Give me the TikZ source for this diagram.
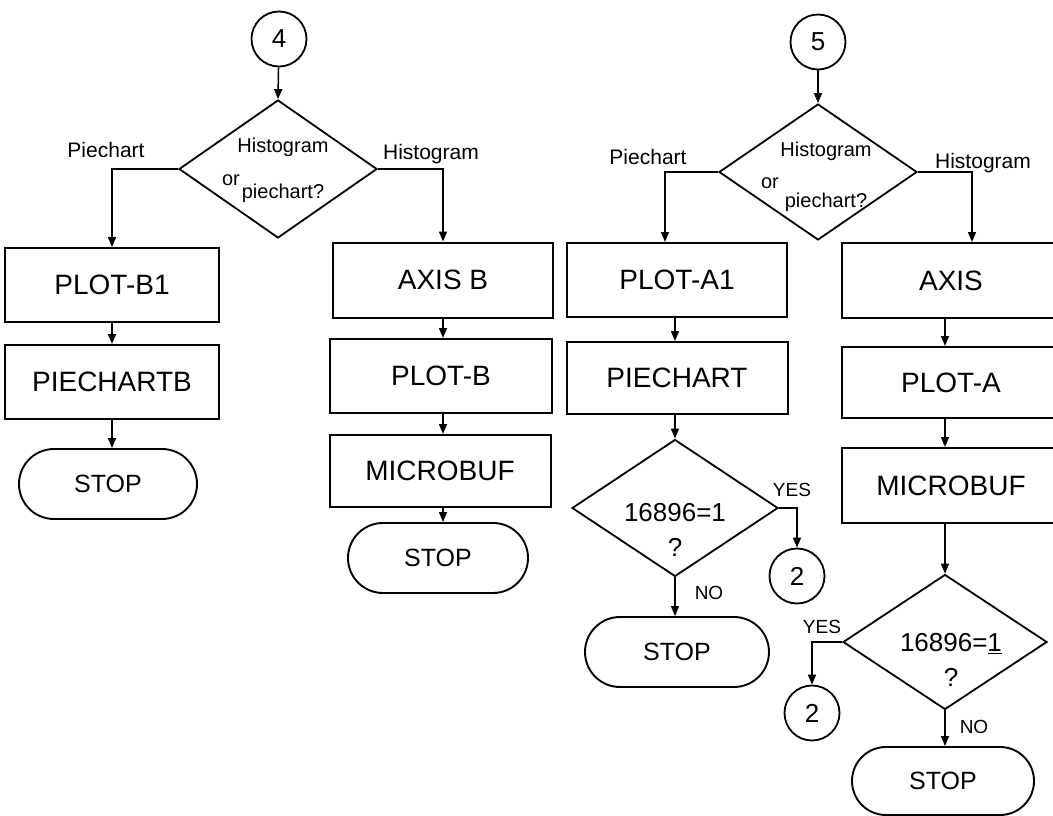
\documentclass[tikz,border=0pt]{standalone}
\usepackage{fontspec}
\setmainfont{Liberation Sans}
\usetikzlibrary{shapes.geometric,shapes.misc,arrows.meta,calc}
\begin{document}
\begin{tikzpicture}[x=1pt,y=-1pt,
  box/.style={draw,line width=2pt,inner sep=0pt,font=\fontsize{28}{32}\selectfont},
  conn/.style={circle,draw,line width=1.8pt,minimum size=55pt,inner sep=0pt,font=\fontsize{26}{28}\selectfont},
  dec/.style={diamond,draw,line width=1.8pt,inner sep=0pt,shape aspect=1.45},
  dtext/.style={align=center,inner sep=0pt,font=\fontsize{20}{24}\selectfont},
  qtext/.style={align=center,inner sep=0pt,font=\fontsize{26}{30}\selectfont},
  term/.style={rounded rectangle,draw,line width=1.9pt,inner sep=0pt,font=\fontsize{25}{28}\selectfont},
  arr/.style={line width=1.5pt,-{Triangle[length=10pt,width=8pt]}},
  lab/.style={inner sep=0pt,font=\fontsize{21}{24}\selectfont},
  yn/.style={inner sep=0pt,font=\fontsize{19}{22}\selectfont}]
\clip (0,0) rectangle (1053,816);

% ---- entry 4: histogram or piechart (variant B) ----
\node[conn] (c4) at (279,39) {4};
\node[dec,minimum width=198pt,minimum height=138pt] (d1) at (278,169) {};
\node[dtext] (d1t) at ($(d1.center)+(5,1)$)
  {Histogram\\[17pt]\llap{\raisebox{13pt}{or}\hspace{2pt}}piechart?};
\node[lab] (l1p) at (106,150) {Piechart};
\node[lab] (l1h) at (431,154) {Histogram};

\node[box,minimum width=214pt,minimum height=74pt] (b1) at (112,285) {PLOT-B1};
\node[box,minimum width=214pt,minimum height=74pt] (b2) at (112,382) {PIECHARTB};
\node[term,minimum width=178pt,minimum height=70pt] (s1) at (108,484) {STOP};

\node[box,minimum width=220pt,minimum height=75pt] (b3) at (443,280) {AXIS B};
\node[box,minimum width=222pt,minimum height=74pt] (b4) at (441,376) {PLOT-B};
\node[box,minimum width=221pt,minimum height=72pt] (b5) at (440,471) {MICROBUF};
\node[term,minimum width=180pt,minimum height=70pt] (s2) at (438,558) {STOP};

\draw[arr] (c4) -- (d1.north);
\draw[arr] (d1.west) -| (b1.north);
\draw[arr] (d1.east) -| (b3.north);
\draw[arr] (b1) -- (b2);
\draw[arr] (b2) -- (s1.north -| b2.south);
\draw[arr] (b3.south) -- (b4.north -| b3.south);
\draw[arr] (b4.south -| b3.south) -- (b5.north -| b3.south);
\draw[arr] (b5.south -| b3.south) -- (s2.north -| b3.south);

% ---- entry 5: histogram or piechart (variant A) ----
\node[conn] (c5) at (818,42) {5};
\node[dec,minimum width=198pt,minimum height=136pt] (d2) at (818,172) {};
\node[dtext] (d2t) at ($(d2.center)+(8,5)$)
  {Histogram\\[16pt]\llap{\raisebox{19pt}{or}\hspace{6pt}}piechart?};
\node[lab] (l2p) at (648,157) {Piechart};
\node[lab] (l2h) at (983,163) {Histogram};

\node[box,minimum width=220pt,minimum height=74pt] (b6) at (677,280) {PLOT-A1};
\node[box,minimum width=221pt,minimum height=72pt] (b7) at (677,378) {PIECHART};
\node[dec,minimum width=206pt,minimum height=137pt] (d3) at (675,508) {};
\node[qtext] (d3t) at ($(d3.center)+(0,22)$) {16896=1\\[5pt]?};
\node[conn] (c2a) at (797,576) {2};
\node[term,minimum width=184pt,minimum height=70pt] (s3) at (677,652) {STOP};
\node[yn] (y3) at (792,490) {YES};
\node[yn] (n3) at (709,593) {NO};

\node[box,minimum width=218pt,minimum height=75pt] (b8) at (951,280.5) {AXIS};
\node[box,minimum width=218pt,minimum height=71pt] (b9) at (951,382.5) {PLOT-A};
\node[box,minimum width=218pt,minimum height=75pt] (b10) at (951,485.5) {MICROBUF};
\node[dec,minimum width=204pt,minimum height=135pt] (d4) at (945,642) {};
\node[qtext] (d4t) at ($(d4.center)+(6,18)$) {16896=\underline{1}\\[5pt]?};
\node[conn] (c2b) at (812,713) {2};
\node[term,minimum width=182pt,minimum height=68pt] (s4) at (943,781) {STOP};
\node[yn] (y4) at (822,627) {YES};
\node[yn] (n4) at (974,727) {NO};

\draw[arr] (c5) -- (d2.north);
\draw[arr] (d2.west) -| ([xshift=-12pt]b6.north);
\draw[arr] (d2.east) -| ([xshift=21pt]b8.north);
\draw[arr] (b6.south -| d3.north) -- (b7.north -| d3.north);
\draw[arr] (b7.south -| d3.north) -- (d3.north);
\draw[arr] (d3.east) -| (c2a.north);
\draw[arr] (d3.south) -- (s3.north -| d3.south);
\draw[arr] (b8.south -| d4.north) -- (b9.north -| d4.north);
\draw[arr] (b9.south -| d4.north) -- (b10.north -| d4.north);
\draw[arr] (b10.south -| d4.north) -- (d4.north);
\draw[arr] (d4.west) -| (c2b.north);
\draw[arr] (d4.south) -- (s4.north -| d4.south);
\end{tikzpicture}
\end{document}
